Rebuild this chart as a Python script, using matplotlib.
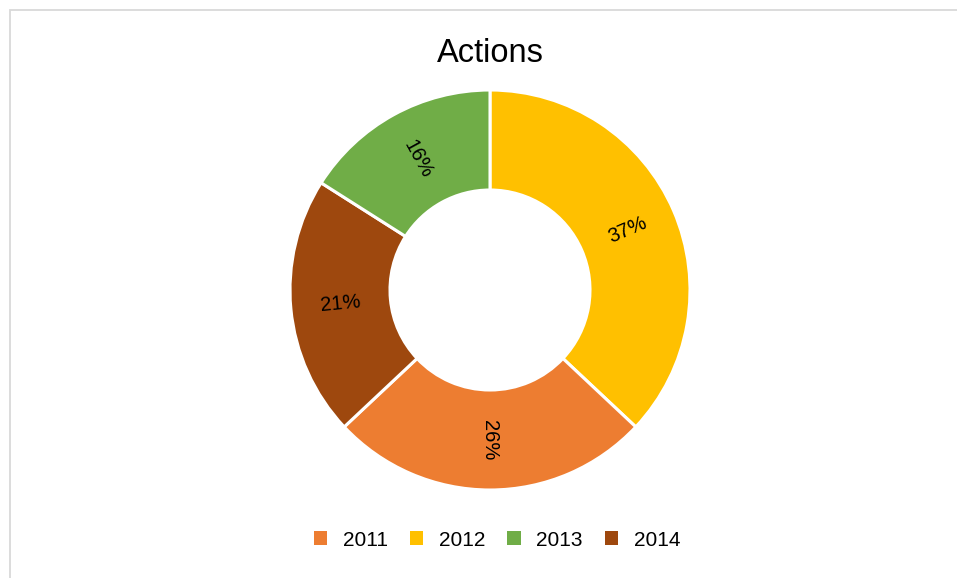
import numpy as np
import matplotlib
matplotlib.use("Agg")
import matplotlib.pyplot as plt
from matplotlib.patches import Patch, Rectangle

plt.rcParams['font.family'] = ['Liberation Sans', 'DejaVu Sans']

title = "Actions"
years = ['2011', '2012', '2013', '2014']
shares = [26, 37, 16, 21]
colors = ['#ED7D31', '#FFC000', '#70AD47', '#9E480E']
draw_order = [1, 0, 3, 2]  # clockwise from the top

W, H = 957, 578
fig = plt.figure(figsize=(W / 100, H / 100), dpi=100)

# frame border
fig.add_artist(Rectangle((10 / W, -0.2), 2.0, 1.2 - 10 / H, transform=fig.transFigure,
                         fill=False, edgecolor='#D9D9D9', linewidth=1.3))

cx, cy, R = 490, 290, 200
ax = fig.add_axes([(cx - R) / W, 1 - (cy + R) / H, 2 * R / W, 2 * R / H])

vals = [shares[i] for i in draw_order]
cols = [colors[i] for i in draw_order]
wedges, _ = ax.pie(vals, colors=cols, startangle=90, counterclock=False, radius=1,
                   wedgeprops=dict(width=0.5, edgecolor='white', linewidth=2.2))
ax.set_xlim(-1, 1)
ax.set_ylim(-1, 1)
ax.set_aspect('equal')
ax.axis('off')

total = sum(vals)
for w, v in zip(wedges, vals):
    mid = (w.theta1 + w.theta2) / 2
    mid_n = ((mid + 180) % 360) - 180
    rot = mid_n if -90 <= mid_n <= 90 else mid_n - 180
    if rot < -90:
        rot += 360
    r = 0.75
    x, y = r * np.cos(np.radians(mid)), r * np.sin(np.radians(mid))
    ax.text(x, y, f"{round(100 * v / total)}%", ha='center', va='center',
            rotation=rot, rotation_mode='anchor', fontsize=14.5, color='black')

fig.text(490 / W, 1 - 54 / H, title, ha='center', va='center', fontsize=23.5, color='black')

handles = [Patch(facecolor=c, edgecolor='none') for c in colors]
fig.legend(handles, years, loc='center', bbox_to_anchor=(497 / W, 1 - 540 / H), ncol=4,
           frameon=False, fontsize=15, handlelength=0.65, handleheight=0.65,
           handletextpad=0.75, columnspacing=1.05)

fig.savefig('out.png', dpi=100)
